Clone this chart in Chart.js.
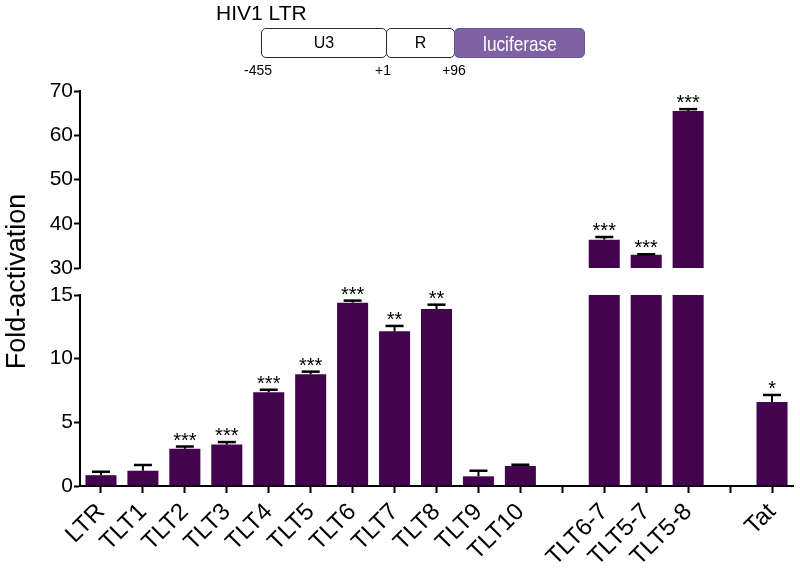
<!DOCTYPE html>
<html><head><meta charset="utf-8">
<script src="https://cdn.jsdelivr.net/npm/chart.js@4.4.1/dist/chart.umd.min.js"></script>
<style>
html,body{margin:0;padding:0;background:#fff;}
#wrap{position:relative;width:800px;height:570px;font-family:'Liberation Sans',Arial,Helvetica,sans-serif;}
canvas{position:absolute;left:0;top:0;}
.t{position:absolute;white-space:nowrap;color:#000;line-height:1;}
.c{transform:translateX(-50%);}
.box{position:absolute;box-sizing:border-box;border:1.4px solid #2a2a2a;border-radius:5px;display:flex;align-items:center;justify-content:center;font-size:16px;line-height:1;background:#fff;}
</style></head>
<body><div id="wrap">
<canvas id="c" width="800" height="570"></canvas>
<div class="t" style="left:216px;top:2px;font-size:21px;">HIV1 LTR</div>
<div class="box" style="left:261px;top:28px;width:126px;height:30px;">U3</div>
<div class="box" style="left:386px;top:28px;width:69px;height:30px;">R</div>
<div class="box" style="left:454px;top:28px;width:131px;height:30px;background:#7f62a3;border-color:#6e5493;color:#fff;font-size:21px;"><span style="display:inline-block;transform:scaleX(0.82);">luciferase</span></div>
<div class="t c" style="left:258px;top:63px;font-size:14px;">-455</div>
<div class="t c" style="left:383px;top:63px;font-size:14px;">+1</div>
<div class="t c" style="left:454px;top:63px;font-size:14px;">+96</div>
</div>
<script>
const categories = ['LTR','TLT1','TLT2','TLT3','TLT4','TLT5','TLT6','TLT7','TLT8','TLT9','TLT10','','TLT6-7','TLT5-7','TLT5-8','','Tat'];
const means = [0.85,1.2,2.92,3.25,7.36,8.77,14.4,12.15,13.9,0.76,1.57,null,36.4,33.0,65.5,null,6.6];
const sems  = [0.27,0.45,0.18,0.2,0.2,0.21,0.16,0.42,0.34,0.44,0.1,null,0.6,0.1,0.4,null,0.55];
const stars = ['','','***','***','***','***','***','**','**','','','','***','***','***','','*'];
const lowerTicks = [0,5,10,15];
const upperTicks = [30,40,50,60,70];
const breakLow = 15, breakHigh = 30;

const FONT = "'Liberation Sans', Arial, Helvetica, sans-serif";
Chart.defaults.font.family = FONT;
Chart.defaults.color = '#000';
const barColor = '#44034f';

const lowerData = means.map(v => v == null ? null : Math.min(v, breakLow));
const upperData = means.map(v => (v != null && v > breakHigh) ? v : null);

const errPlugin = {
  id: 'errbars',
  afterDatasetsDraw(chart) {
    const ctx = chart.ctx;
    const xs = chart.scales.x, yl = chart.scales.y, yu = chart.scales.yTop;
    ctx.save();
    ctx.strokeStyle = '#000';
    ctx.fillStyle = '#000';
    ctx.font = "20px " + FONT;
    ctx.textAlign = 'center';
    ctx.textBaseline = 'alphabetic';
    means.forEach((m, i) => {
      if (m == null) return;
      const sc = m > breakHigh ? yu : yl;
      const x = xs.getPixelForValue(i);
      const yb = sc.getPixelForValue(m);
      const ye = sc.getPixelForValue(m + sems[i]);
      ctx.lineWidth = 2;
      ctx.beginPath(); ctx.moveTo(x, yb); ctx.lineTo(x, ye); ctx.stroke();
      ctx.lineWidth = 2.5;
      ctx.beginPath(); ctx.moveTo(x - 9, ye); ctx.lineTo(x + 9, ye); ctx.stroke();
      if (stars[i]) {
        const mt = ctx.measureText(stars[i]);
        const desc = mt.actualBoundingBoxDescent || -4;
        ctx.fillText(stars[i], x, ye - 6 - desc);
      }
    });
    ctx.restore();
  }
};

const yCommon = {
  type: 'linear', position: 'left', stack: 'v',
  grid: { drawOnChartArea: false, tickLength: 6, tickWidth: 2, tickColor: '#000' },
  border: { display: true, color: '#000', width: 2 },
  ticks: { color: '#000', font: { size: 21 }, padding: 1, autoSkip: false },
  afterFit: s => { s.width = 80; }
};

new Chart(document.getElementById('c'), {
  type: 'bar',
  data: {
    labels: categories,
    datasets: [
      { data: lowerData, yAxisID: 'y', backgroundColor: barColor, grouped: false, barPercentage: 0.74, categoryPercentage: 1 },
      { data: upperData, yAxisID: 'yTop', backgroundColor: barColor, grouped: false, barPercentage: 0.74, categoryPercentage: 1 }
    ]
  },
  options: {
    responsive: false,
    animation: false,
    layout: { padding: { left: 0, top: 91, right: 7, bottom: 0 } },
    plugins: { legend: { display: false }, tooltip: { enabled: false } },
    scales: {
      x: {
        type: 'category', offset: true,
        grid: { display: true, drawOnChartArea: false, offset: false, tickLength: 7, tickWidth: 2, tickColor: '#000' },
        border: { display: true, color: '#000', width: 2 },
        ticks: { color: '#000', font: { size: 24 }, minRotation: 45, maxRotation: 45, autoSkip: false, padding: 5 },
        afterFit: s => { s.height = 84; }
      },
      y: Object.assign({}, yCommon, {
        stackWeight: 191, min: 0, max: breakLow,
        afterBuildTicks: s => { s.ticks = lowerTicks.map(v => ({ value: v })); }
      }),
      gap: {
        type: 'linear', position: 'left', stack: 'v', stackWeight: 27, min: 0, max: 1,
        grid: { display: false }, border: { display: false }, ticks: { display: false },
        title: { display: true, text: 'Fold-activation', color: '#000', font: { size: 27 }, padding: { top: 1, bottom: 0 } },
        afterFit: s => { s.width = 80; }
      },
      yTop: Object.assign({}, yCommon, {
        stackWeight: 177, min: breakHigh, max: 70,
        afterBuildTicks: s => { s.ticks = upperTicks.map(v => ({ value: v })); }
      })
    }
  },
  plugins: [errPlugin]
});
</script>
</body></html>
